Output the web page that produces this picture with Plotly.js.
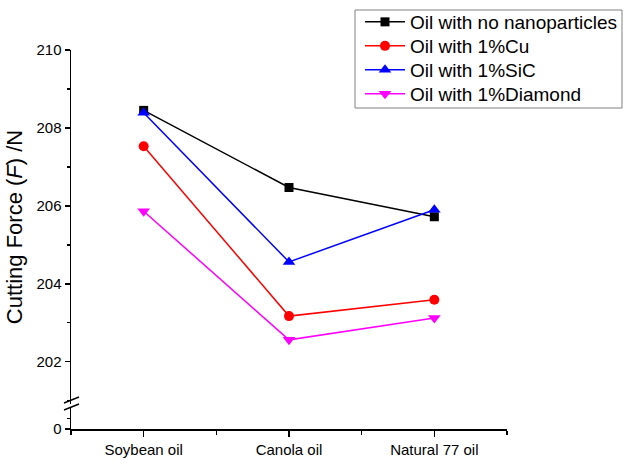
<!DOCTYPE html>
<html>
<head>
<meta charset="utf-8">
<script src="https://cdn.plot.ly/plotly-3.0.1.min.js"></script>
<style>html,body{margin:0;padding:0;background:#fff;}#chart{width:623px;height:460px;}</style>
</head>
<body>
<div id="chart"></div>
<script>
const categories = ["Soybean oil", "Canola oil", "Natural 77 oil"];
const seriesNames = ["Oil with no nanoparticles", "Oil with 1%Cu", "Oil with 1%SiC", "Oil with 1%Diamond"];
const noNano = [208.45, 206.47, 205.72];
const cu = [207.53, 203.17, 203.59];
const sic = [208.39, 204.56, 205.90];
const diamond = [205.86, 202.56, 203.12];
const upperTicks = [202, 204, 206, 208, 210];
const lowerTicks = [0];

const xIdx = categories.map((c, i) => i);
const colors = ["#000000", "#ff0000", "#0000ff", "#ff00ff"];
const symbols = ["square", "circle", "triangle-up", "triangle-down"];
const sizes = [9, 10, 11, 11];
const allSeries = [noNano, cu, sic, diamond];
const legendIds = ["legend", "legend2", "legend3", "legend4"];

const traces = allSeries.map((vals, k) => ({
  x: xIdx, y: vals, name: seriesNames[k], type: "scatter", mode: "lines+markers",
  xaxis: "x", yaxis: "y2", legend: legendIds[k],
  line: {color: colors[k], width: 1.5},
  marker: {color: colors[k], symbol: symbols[k], size: sizes[k]}
}));
// empty trace so the lower (below-break) y-axis subplot is created
traces.push({x: [], y: [], xaxis: "x", yaxis: "y", type: "scatter", mode: "markers", showlegend: false, hoverinfo: "skip"});

const font = {family: "Liberation Sans, Arial, sans-serif", color: "#000"};
const px2x = px => (px - 71) / 436;
const py2y = py => (429 - py) / 379;

const layout = {
  width: 623, height: 460,
  margin: {l: 71, r: 116, t: 50, b: 31, autoexpand: false},
  paper_bgcolor: "#fff", plot_bgcolor: "#fff",
  font: Object.assign({size: 15}, font),
  showlegend: true,
  xaxis: {
    range: [-0.5, 2.5], tickmode: "array", tickvals: xIdx, ticktext: categories,
    showline: true, linecolor: "#000", linewidth: 1.5, showgrid: false, zeroline: false,
    ticks: "outside", ticklen: 6, tickwidth: 1.5, tickcolor: "#000",
    tickfont: Object.assign({size: 15}, font), anchor: "y",
    minor: {tickmode: "array", tickvals: [-0.5, 0.5, 1.5, 2.5], ticks: "outside", ticklen: 4, tickwidth: 1.5, tickcolor: "#000", showgrid: false}
  },
  yaxis: {
    domain: [0, 0.055], range: [0, 1], tickmode: "array", tickvals: lowerTicks,
    showline: true, linecolor: "#000", linewidth: 1.5, showgrid: false, zeroline: false,
    ticks: "outside", ticklen: 5, tickwidth: 1.5, tickcolor: "#000",
    tickfont: Object.assign({size: 15}, font), anchor: "x",
    minor: {tickmode: "array", tickvals: [0.5], ticks: "outside", ticklen: 3, tickwidth: 1.5, tickcolor: "#000", showgrid: false}
  },
  yaxis2: {
    domain: [0.066, 1], range: [200.914, 210], tickmode: "array", tickvals: upperTicks,
    showline: true, linecolor: "#000", linewidth: 1.5, showgrid: false, zeroline: false,
    ticks: "outside", ticklen: 5, tickwidth: 1.5, tickcolor: "#000",
    tickfont: Object.assign({size: 15}, font), anchor: "x",
    minor: {dtick: 1, ticks: "outside", ticklen: 3, tickwidth: 1.5, tickcolor: "#000", showgrid: false},
    title: {text: "Cutting Force (<i>F</i>) /N", font: Object.assign({size: 22}, font), standoff: 8}
  },
  shapes: [
    {type: "line", xref: "paper", yref: "paper", x0: px2x(64), y0: py2y(403), x1: px2x(79), y1: py2y(397), line: {color: "#000", width: 1.5}},
    {type: "line", xref: "paper", yref: "paper", x0: px2x(64), y0: py2y(410), x1: px2x(79), y1: py2y(404), line: {color: "#000", width: 1.5}},
    {type: "rect", xref: "paper", yref: "paper", x0: px2x(355), y0: py2y(108), x1: px2x(622), y1: py2y(10), line: {color: "#808080", width: 1}, fillcolor: "#ffffff", layer: "above"}
  ]
};

const centers = [22, 46, 70, 94];
legendIds.forEach((id, k) => {
  layout[id] = {
    x: px2x(360), y: py2y(centers[k]), xanchor: "left", yanchor: "middle",
    bgcolor: "rgba(0,0,0,0)", borderwidth: 0, itemwidth: 40,
    font: Object.assign({size: 19}, font)
  };
});

Plotly.newPlot("chart", traces, layout, {displayModeBar: false, staticPlot: true});
</script>
</body>
</html>
